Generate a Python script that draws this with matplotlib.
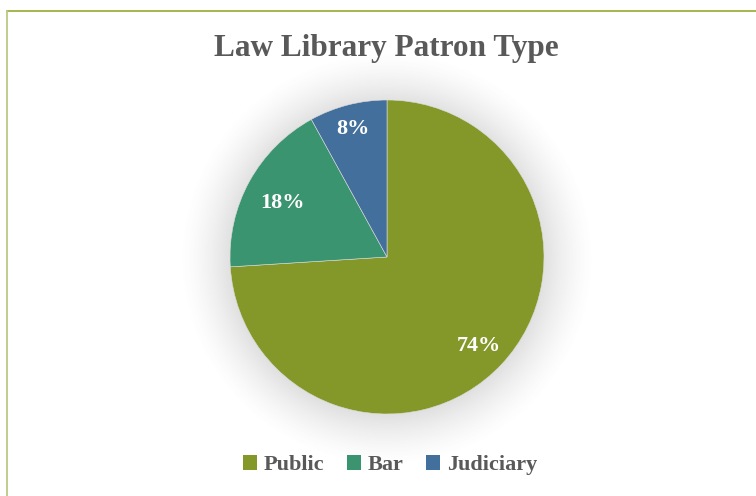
import numpy as np
import matplotlib.pyplot as plt
from matplotlib.patches import Patch
from matplotlib.lines import Line2D

labels = ['Public', 'Bar', 'Judiciary']
shares = [74, 18, 8]
colors = ['#84982A', '#3B9470', '#436F9C']
label_dist = [0.80, 0.76, 0.86]

plt.rcParams['font.family'] = ['Liberation Serif', 'DejaVu Serif']

fig = plt.figure(figsize=(7.56, 4.96), dpi=100)
W, H = 756, 496
cx, cy, r = 387, 496 - 257, 157
half = 1.45
ax = fig.add_axes([(cx - r * half) / W, (cy - r * half) / H, 2 * r * half / W, 2 * r * half / H])

# soft glow behind the pie
g = np.linspace(-half, half, 400)
X, Y = np.meshgrid(g, g)
R = np.hypot(X, Y + 0.01)
alpha = 0.2 * np.clip((1.33 - R) / 0.35, 0, 1) ** 1.5
img = np.zeros((400, 400, 4))
img[..., :3] = 0.35
img[..., 3] = alpha
ax.imshow(img, extent=[-half, half, -half, half], origin='lower', zorder=0)

wedges, _ = ax.pie(shares, colors=colors, startangle=90, counterclock=False,
                   radius=1, wedgeprops=dict(linewidth=0.4, edgecolor='#dddddd'))
for w in wedges:
    w.set_zorder(2)

for w, s, d in zip(wedges, shares, label_dist):
    mid = np.deg2rad((w.theta1 + w.theta2) / 2)
    ax.text(d * np.cos(mid), d * np.sin(mid) - 0.02, f'{s}%', color='white',
            fontsize=16, fontweight='bold', ha='center', va='center', zorder=3)

ax.set_xlim(-half, half)
ax.set_ylim(-half, half)
ax.set_aspect('equal')
ax.axis('off')

fig.text(0.511, 0.902, 'Law Library Patron Type', ha='center', va='center',
         fontsize=22.5, fontweight='bold', color='#595959')

handles = [Patch(facecolor=c, edgecolor='none') for c in colors]
leg = fig.legend(handles, labels, loc='center', bbox_to_anchor=(0.516, 0.062), ncol=3,
                 frameon=False, handlelength=0.65, handleheight=0.65, handletextpad=0.3,
                 columnspacing=1.0, prop={'size': 16, 'weight': 'bold'})
for t in leg.get_texts():
    t.set_color('#595959')

# chart frame
fig.add_artist(Line2D([7 / W, 1], [1 - 10.5 / H, 1 - 10.5 / H], color='#9DB13F', lw=1.3))
fig.add_artist(Line2D([7 / W, 7 / W], [0, 1 - 10.5 / H], color='#B9CA82', lw=1.3))

fig.savefig('out.png', dpi=100)
